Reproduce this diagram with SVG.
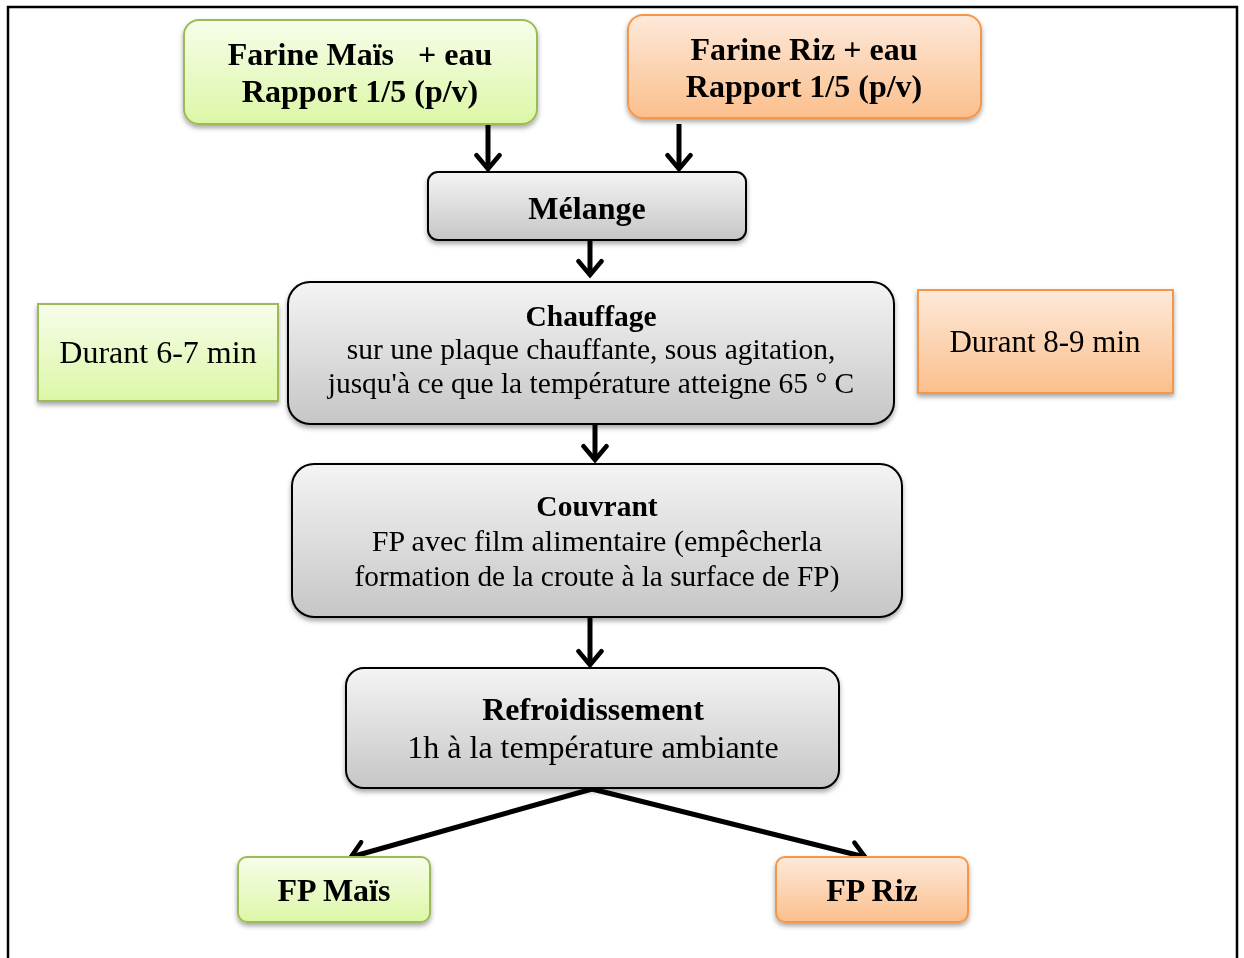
<svg xmlns="http://www.w3.org/2000/svg" width="1244" height="958" viewBox="0 0 1244 958">
<style>
.t{font-family:"Liberation Serif","Times New Roman",serif;fill:#000;text-anchor:middle}
.b{font-weight:bold;font-size:32px}
.r{font-size:31px}
.green{fill:url(#gG);stroke:#9bbb59;stroke-width:2}
.orange{fill:url(#gO);stroke:#f79646;stroke-width:2}
.gray{fill:url(#gY);stroke:#000;stroke-width:2}
.con{stroke:#000;stroke-width:5;fill:none;marker-end:url(#ah)}
</style>
<defs>
<linearGradient id="gG" x1="0" y1="0" x2="0" y2="1"><stop offset="0" stop-color="#f7fdea"/><stop offset="1" stop-color="#dcf7a6"/></linearGradient>
<linearGradient id="gO" x1="0" y1="0" x2="0" y2="1"><stop offset="0" stop-color="#fde9da"/><stop offset="1" stop-color="#fbbf8c"/></linearGradient>
<linearGradient id="gY" x1="0" y1="0" x2="0" y2="1"><stop offset="0" stop-color="#f4f4f4"/><stop offset="1" stop-color="#c6c6c6"/></linearGradient>
<filter id="sh" x="-10%" y="-10%" width="120%" height="130%"><feDropShadow dx="0" dy="3" stdDeviation="2.5" flood-color="#000" flood-opacity="0.35"/></filter>
<marker id="ah" viewBox="0 0 12 12" refX="10" refY="6" markerWidth="5.5" markerHeight="5.5" orient="auto" markerUnits="strokeWidth"><path d="M4,1 L10,6 L4,11" fill="none" stroke="#000" stroke-width="2" stroke-linecap="round" stroke-linejoin="miter"/></marker>
</defs>
<rect width="1244" height="958" fill="#fff"/>
<path d="M8,960 V7 H1237 V960" fill="none" stroke="#000" stroke-width="2.5"/>
<g id="connectors">
<line class="con" x1="488" y1="124" x2="488" y2="169"/>
<line class="con" x1="679" y1="124" x2="679" y2="169"/>
<line class="con" x1="590" y1="241" x2="590" y2="275"/>
<line class="con" x1="595" y1="425" x2="595" y2="460"/>
<line class="con" x1="590" y1="618" x2="590" y2="665"/>
<line class="con" x1="592" y1="789" x2="351" y2="857"/>
<line class="con" x1="592" y1="789" x2="865" y2="857"/>
</g>
<g id="mais" filter="url(#sh)"><rect class="green" x="184" y="20" width="353" height="104" rx="15"/>
<text class="t b" x="360" y="65" xml:space="preserve">Farine Maïs   + eau</text><text class="t b" x="360" y="102">Rapport 1/5 (p/v)</text></g>
<g id="riz" filter="url(#sh)"><rect class="orange" x="628" y="15" width="353" height="103" rx="15"/>
<text class="t b" x="804" y="60">Farine Riz + eau</text><text class="t b" x="804" y="97">Rapport 1/5 (p/v)</text></g>
<g id="melange" filter="url(#sh)"><rect class="gray" x="428" y="172" width="318" height="68" rx="10"/>
<text class="t b" x="587" y="219">Mélange</text></g>
<g id="duree1" filter="url(#sh)"><rect class="green" x="38" y="304" width="240" height="97"/>
<text class="t r" x="158" y="363" style="font-size:32px">Durant 6-7 min</text></g>
<g id="chauffage" filter="url(#sh)"><rect class="gray" x="288" y="282" width="606" height="142" rx="22"/>
<text class="t b" x="591" y="326" style="font-size:29.5px">Chauffage</text>
<text class="t r" x="591" y="359" style="font-size:29.5px">sur une plaque chauffante, sous agitation,</text>
<text class="t r" x="591" y="393" style="font-size:29.5px">jusqu'à ce que la température atteigne 65 ° C</text></g>
<g id="duree2" filter="url(#sh)"><rect class="orange" x="918" y="290" width="255" height="103"/>
<text class="t r" x="1045" y="352" style="font-size:31px">Durant 8-9 min</text></g>
<g id="couvrant" filter="url(#sh)"><rect class="gray" x="292" y="464" width="610" height="153" rx="22"/>
<text class="t b" x="597" y="516" style="font-size:29.5px">Couvrant</text>
<text class="t r" x="597" y="551" style="font-size:30px">FP avec film alimentaire (empêcherla</text>
<text class="t r" x="597" y="586" style="font-size:29.3px">formation de la croute à la surface de FP)</text></g>
<g id="refroidissement" filter="url(#sh)"><rect class="gray" x="346" y="668" width="493" height="120" rx="18"/>
<text class="t b" x="593" y="720">Refroidissement</text>
<text class="t r" x="593" y="758" style="font-size:32px">1h à la température ambiante</text></g>
<g id="fpmais" filter="url(#sh)"><rect class="green" x="238" y="857" width="192" height="65" rx="9"/>
<text class="t b" x="334" y="901">FP Maïs</text></g>
<g id="fpriz" filter="url(#sh)"><rect class="orange" x="776" y="857" width="192" height="65" rx="9"/>
<text class="t b" x="872" y="901">FP Riz</text></g>
</svg>
